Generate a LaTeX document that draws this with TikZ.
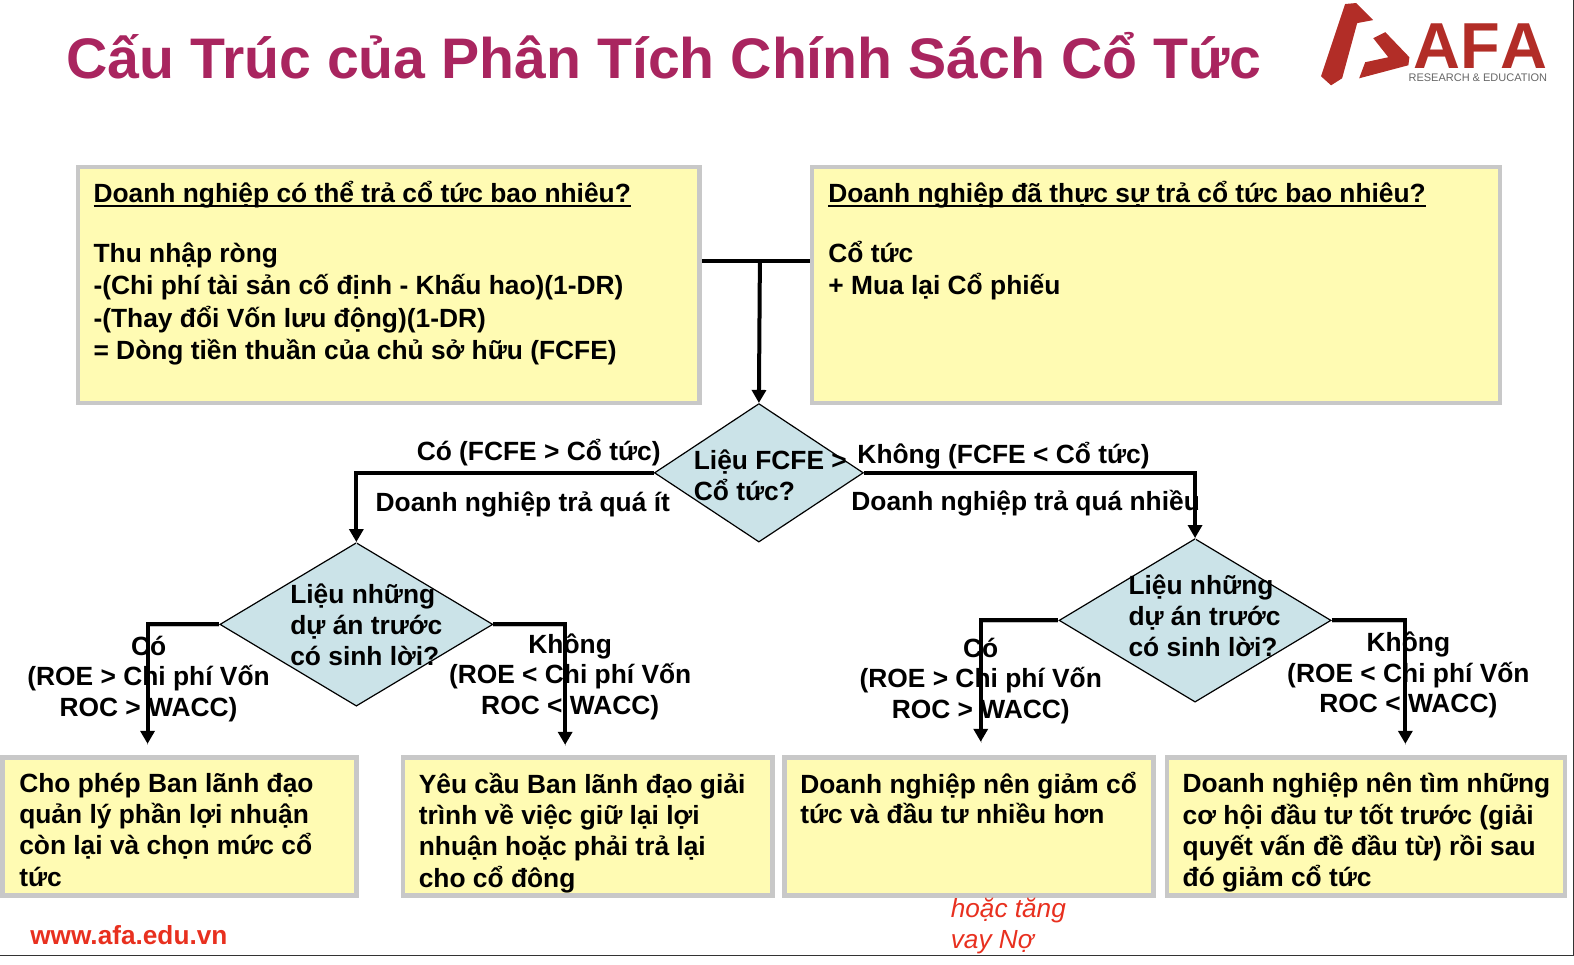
\documentclass[tikz,border=0pt]{standalone}
\usepackage{fontspec}
\setmainfont{Liberation Sans}
\usetikzlibrary{shapes.geometric,arrows.meta}
\definecolor{titlepink}{HTML}{A9255F}
\definecolor{logored}{HTML}{B22D27}
\definecolor{boxyellow}{HTML}{FFFBB3}
\definecolor{boxgray}{HTML}{C8C8C8}
\definecolor{decisionblue}{HTML}{CBE3E8}
\definecolor{notered}{HTML}{E8301F}
\newcommand{\headline}[1]{\setbox0=\hbox{#1}\rlap{\rule[-5pt]{\wd0}{2.6pt}}\box0}
\tikzset{
    infobox/.style={draw=boxgray,fill=boxyellow,line width=4.5pt,rectangle},
    decision/.style={diamond,draw=black,fill=decisionblue,line width=1.2pt,inner sep=0pt},
    boxtext/.style={anchor=north west,align=left,inner sep=0pt,execute at begin node={\rule{0pt}{26pt}},font=\fontsize{26.35}{31.6}\selectfont\bfseries},
    labeltext/.style={anchor=west,align=left,inner sep=0pt,font=\fontsize{26.35}{31}\selectfont\bfseries},
    branchtext/.style={align=center,inner sep=0pt,font=\fontsize{26.35}{30.5}\selectfont\bfseries},
    conn/.style={draw=black,line width=4pt,preaction={draw=black!25,-,transform canvas={yshift=-1.5pt}}},
    connarrow/.style={conn,-{Triangle[length=13pt,width=14pt]}}
}
\begin{document}
\begin{tikzpicture}[x=1.0038pt,y=-1.0038pt]
    \useasboundingbox (0,0) rectangle (1568,960.35);
    % title and logo
    \node (title) at (66,55) [anchor=west,inner sep=0pt,text=titlepink,font=\fontsize{57.2}{60}\selectfont\bfseries] {Cấu Trúc của Phân Tích Chính Sách Cổ Tức};
    \fill[logored] (1340,4) -- (1351,3) -- (1368,20) -- (1352,23) -- (1337,78) -- (1326,85) -- (1316,76) -- cycle;
    \fill[logored] (1368,38) -- (1380,32) -- (1404,57) -- (1403,65) -- (1354,78) -- (1360,62) -- (1383,57) -- cycle;
    \node (logoname) at (1408,45.5) [anchor=west,inner sep=0pt,text=logored,font=\fontsize{65}{65}\selectfont\bfseries\addfontfeature{Kerning=Off}] {AFA};
    \node (logosub) at (1403,77) [anchor=west,inner sep=0pt,text=black!60,font=\fontsize{11}{11}\selectfont] {RESEARCH \& EDUCATION};
    % top boxes
    \node (boxcan) at (387.5,284) [infobox,minimum width=621.5pt,minimum height=236pt] {};
    \node (boxdid) at (1151.5,284) [infobox,minimum width=688pt,minimum height=236pt] {};
    \node (textcan) at (93,180) [boxtext,font=\fontsize{26.35}{32.4}\selectfont\bfseries] {\headline{Doanh nghiệp có thể trả cổ tức bao nhiêu?}\\[28pt]Thu nhập ròng\\-(Chi phí tài sản cố định - Khấu hao)(1-DR)\\-(Thay đổi Vốn lưu động)(1-DR)\\= Dòng tiền thuần của chủ sở hữu (FCFE)};
    \node (textdid) at (825,180) [boxtext,font=\fontsize{26.35}{32.4}\selectfont\bfseries] {\headline{Doanh nghiệp đã thực sự trả cổ tức bao nhiêu?}\\[28pt]Cổ tức\\+ Mua lại Cổ phiếu};
    % decisions
    \node (askfcfe) at (756,471) [decision,minimum width=209pt,minimum height=138.5pt] {};
    \node (askleft) at (355,622) [decision,minimum width=273pt,minimum height=163.5pt] {};
    \node (askright) at (1190.5,618) [decision,minimum width=272pt,minimum height=163.5pt] {};
    \node (textfcfe) at (691,473) [labeltext] {Liệu FCFE >\\Cổ tức?};
    \node (textleft) at (289,622) [labeltext] {Liệu những\\dự án trước\\có sinh lời?};
    \node (textright) at (1124,613) [labeltext] {Liệu những\\dự án trước\\có sinh lời?};
    % labels of the first decision
    \node (yesfcfe) at (415,450.5) [labeltext] {Có (FCFE > Cổ tức)};
    \node (lowpay) at (374,503) [labeltext] {Doanh nghiệp trả quá ít};
    \node (nofcfe) at (854,454) [labeltext] {Không (FCFE < Cổ tức)};
    \node (highpay) at (848,501) [labeltext] {Doanh nghiệp trả quá nhiều};
    % labels of the lower decisions
    \node (yesleft) at (148,676) [branchtext] {Có\\(ROE > Chi phí Vốn\\ROC > WACC)};
    \node (noleft) at (568,674) [branchtext] {Không\\(ROE < Chi phí Vốn\\ROC < WACC)};
    \node (yesright) at (977,678) [branchtext] {Có\\(ROE > Chi phí Vốn\\ROC > WACC)};
    \node (noright) at (1403,672.5) [branchtext] {Không\\(ROE < Chi phí Vốn\\ROC < WACC)};
    % bottom boxes
    \node (boxa) at (179,823.5) [infobox,minimum width=354pt,minimum height=138pt] {};
    \node (boxb) at (585.5,823.5) [infobox,minimum width=369pt,minimum height=138pt] {};
    \node (boxc) at (965.5,823.5) [infobox,minimum width=369pt,minimum height=138pt] {};
    \node (boxd) at (1361,823.5) [infobox,minimum width=398pt,minimum height=138pt] {};
    \node (texta) at (19,770) [boxtext,font=\fontsize{26.35}{31.2}\selectfont\bfseries] {Cho phép Ban lãnh đạo\\quản lý phần lợi nhuận\\còn lại và chọn mức cổ\\tức};
    \node (textb) at (417,770) [boxtext,font=\fontsize{26.35}{31.2}\selectfont\bfseries] {Yêu cầu Ban lãnh đạo giải\\trình về việc giữ lại lợi\\nhuận hoặc phải trả lại\\cho cổ đông};
    \node (textc) at (797,769) [boxtext,font=\fontsize{26.35}{30.5}\selectfont\bfseries] {Doanh nghiệp nên giảm cổ\\tức và đầu tư nhiều hơn};
    \node (textd) at (1178,770) [boxtext,font=\fontsize{26.35}{31.2}\selectfont\bfseries] {Doanh nghiệp nên tìm những\\cơ hội đầu tư tốt trước (giải\\quyết vấn đề đầu từ) rồi sau\\đó giảm cổ tức};
    % connectors
    \coordinate (merge) at (757,260);
    \coordinate (endya) at (147,741);
    \coordinate (endna) at (563,742);
    \coordinate (endyb) at (977,739);
    \coordinate (endnb) at (1400,741);
    \draw[conn] (boxcan.east |- merge) -- (boxdid.west |- merge);
    \draw[connarrow] (merge) -- (askfcfe.north);
    \draw[connarrow] (askfcfe.west) -| (askleft.north);
    \draw[connarrow] (askfcfe.east) -| (askright.north);
    \draw[connarrow] (askleft.west) -| (endya);
    \draw[connarrow] (askleft.east) -| (endna);
    \draw[connarrow] (askright.west) -| (endyb);
    \draw[connarrow] (askright.east) -| (endnb);
    % footer
    \node (website) at (30,931.5) [anchor=west,inner sep=0pt,text=notered,font=\fontsize{26.2}{26}\selectfont\bfseries] {www.afa.edu.vn};
    \node (note) at (947,923) [anchor=west,align=left,inner sep=0pt,text=notered,font=\fontsize{26.2}{31}\selectfont\itshape] {hoặc tăng\\vay Nợ};
    \coordinate (rulestart) at (0,951.4);
    \coordinate (rulecorner) at (1567,951.4);
    \coordinate (ruleend) at (1567,0);
    \draw[black!80,line width=1pt] (rulestart) -- (rulecorner) -- (ruleend);
\end{tikzpicture}
\end{document}
